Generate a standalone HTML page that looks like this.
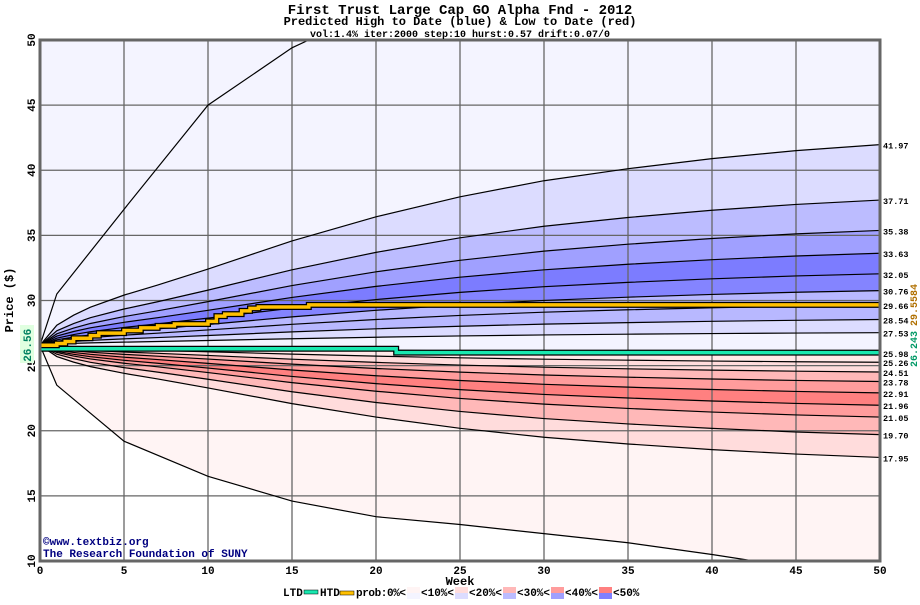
<!DOCTYPE html>
<html><head><meta charset="utf-8"><style>
body{margin:0;background:#fff}
svg text{font-family:"Liberation Mono",monospace;font-weight:bold}
</style></head><body>
<svg id="c" width="920" height="600" xmlns="http://www.w3.org/2000/svg"></svg>
<script>
const weeks=[0,1,2,3,5,7,10,15,20,25,30,35,40,45,50];
const shape=[0,0.1,0.15,0.19,0.25,0.3,0.38,0.52,0.64,0.74,0.82,0.88,0.93,0.97,1];
const startPrice=26.56;
const upperEnds=[41.97,37.71,35.38,33.63,32.05,30.76,29.66,28.54,27.53,25.98];
const lowerEnds=[25.26,24.51,23.78,22.91,21.96,21.05,19.70,17.95];
const topWeeks=[0,1,5,10,15,16];
const topVals=[26.56,30.5,37,45,49.4,50];
const botWeeks=[0,1,5,10,15,20,25,30,35,40,42.5];
const botVals=[26.56,23.5,19.2,16.5,14.6,13.4,12.8,12.1,11.4,10.5,10];
const htdWeeks=[0,1,1.5,2,3,3.5,5,6,7,8,10,10.5,11,12,12.5,13,16,50];
const htdVals=[26.56,26.7,26.85,27.1,27.3,27.5,27.7,27.9,28.05,28.2,28.4,28.8,28.95,29.2,29.4,29.5,29.66,29.66];
const ltdWeeks=[0,21,21.2,50];
const ltdVals=[26.3,26.3,26.0,26.0];
const xTicks=[0,5,10,15,20,25,30,35,40,45,50];
const yTicks=[10,15,20,25,30,35,40,45,50];
const upperFill=['#f4f4ff','#dcdcff','#bcbcff','#a0a0ff','#7c7cff','#8484ff','#b8b8ff','#b8b8ff','#dcdcff','#f4f4ff'];
const lowerFill=['#ffe8e8','#ffdcdc','#ffb8b8','#ff9c9c','#ff8080','#ff9c9c','#ffb8b8','#ffdcdc','#fff4f4'];
const X=w=>40+w*16.8, Y=p=>40+(50-p)*13.025;
const svg=document.getElementById('c');const NS='http://www.w3.org/2000/svg';
function el(t,a,p){const e=document.createElementNS(NS,t);for(const k in a)e.setAttribute(k,a[k]);(p||svg).appendChild(e);return e;}
function curve(e){return weeks.map((w,i)=>[X(w),Y(startPrice+(e-startPrice)*shape[i])]);}
function pts(ws,vs){return ws.map((w,i)=>[X(w),Y(Math.max(10,Math.min(50,vs[i])))]);}
const str=a=>a.map(p=>p.join(',')).join(' ');
const clip=el('clipPath',{id:'pc'});el('rect',{x:40,y:40,width:840,height:521},clip);
const g=el('g',{'clip-path':'url(#pc)'});

el('rect',{x:40,y:40,width:840,height:305,fill:'#f4f4ff'},g);
el('rect',{x:40,y:345,width:840,height:216,fill:'#fff'},g);
let topP=pts(topWeeks,topVals);topP.push([X(50),Y(50)]);
let prev=topP;
upperEnds.forEach((e,i)=>{const c=curve(e);
 const p=el('polygon',{points:str(prev.concat([[X(50),Y(50)]]).concat(c.slice().reverse())),fill:upperFill[i]},g);
 
 prev=c;});
let lp=curve(upperEnds[upperEnds.length-1]);
const bot=pts(botWeeks,botVals);bot.push([X(50),Y(10)]);
const lowCurves=lowerEnds.map(curve);
lowCurves.push(bot);
lowCurves.forEach((c,i)=>{
 const p=el('polygon',{points:str(lp.concat(c.slice().reverse())),fill:lowerFill[i]},g);
 
 lp=c;});
xTicks.forEach(w=>{const l=el('line',{x1:X(w),x2:X(w),y1:40,y2:561,stroke:'#666','stroke-width':1.3},g);});
yTicks.forEach(p=>{const l=el('line',{x1:40,x2:880,y1:Y(p),y2:Y(p),stroke:'#666','stroke-width':1.3},g);});
[topP.slice(0,-1),bot.slice(0,-1)].concat(upperEnds.map(curve),lowerEnds.map(curve)).forEach(c=>{
 const l=el('polyline',{points:str(c),fill:'none',stroke:'#000','stroke-width':1.2},g);});
function stepLine(ws,vs,col,nm){const a=[];ws.forEach((w,i)=>{if(i>0)a.push([X(w),Y(vs[i-1])]);a.push([X(w),Y(vs[i])]);});
 el('polyline',{points:str(a),fill:'none',stroke:'#000','stroke-width':6},g);
 const l=el('polyline',{points:str(a),fill:'none',stroke:col,'stroke-width':3.5},g);}
stepLine(ltdWeeks,ltdVals,'#19e8b0','ltd-line');
stepLine(htdWeeks,htdVals,'#ffc000','htd-line');
const fr=el('rect',{x:40,y:40,width:840,height:521,fill:'none',stroke:'#666','stroke-width':3});

function txt(s,x,y,a,p){const t=el('text',Object.assign({x:x,y:y},a||{}),p);t.textContent=s;return t;}
xTicks.forEach(w=>{const t=txt(w,X(w),574,{'font-size':11,'text-anchor':'middle',fill:'#000','font-weight':'normal'});});
yTicks.forEach(p=>{const t=txt(p,0,0,{'font-size':11,'text-anchor':'middle','font-weight':'normal',transform:`translate(35,${Y(p)}) rotate(-90)`});});
upperEnds.concat(lowerEnds).forEach(e=>{const t=txt(e.toFixed(2),883,Y(e)+4,{'font-size':8.5});});
let t;
t=txt('First Trust Large Cap GO Alpha Fnd  - 2012',460,14,{'font-size':14,'text-anchor':'middle','font-weight':'normal'});
t=txt('Predicted High to Date (blue) &  Low to Date (red)',460,25,{'font-size':12,'text-anchor':'middle'});
t=txt('vol:1.4% iter:2000 step:10 hurst:0.57 drift:0.07/0',460,37,{'font-size':10,'text-anchor':'middle','font-weight':'normal'});
t=txt('Week',460,585,{'font-size':12,'text-anchor':'middle'});
t=txt('Price ($)',0,0,{'font-size':12,'text-anchor':'middle',transform:'translate(13,300) rotate(-90)'});
el('rect',{x:20,y:325,width:14,height:38,fill:'#e0ffe0'});
t=txt('26.56',0,0,{'font-size':11,'text-anchor':'middle',fill:'#008060',transform:`translate(31,${Y(startPrice)}) rotate(-90)`});
t=txt('29.5584',0,0,{'font-size':10,'text-anchor':'middle',fill:'#b07000',transform:'translate(917,305) rotate(-90)'});
t=txt('26.243',0,0,{'font-size':10,'text-anchor':'middle',fill:'#009966',transform:'translate(917,349) rotate(-90)'});
t=txt('©www.textbiz.org',43,545,{'font-size':11,fill:'#000080'});
t=txt('The Research Foundation of SUNY',43,557,{'font-size':11,fill:'#000080'});
const lg=el('g',{});
txt('LTD',283,596,{'font-size':11,'font-weight':'normal'},lg);
el('rect',{x:304,y:590,width:14,height:4,fill:'#19e8b0',stroke:'#000','stroke-width':0.5},lg);
txt('HTD',320,596,{'font-size':11,'font-weight':'normal'},lg);
el('rect',{x:340,y:591,width:14,height:4,fill:'#ffc000',stroke:'#000','stroke-width':0.5},lg);
txt('prob:0%<',356,596,{'font-size':11,'font-weight':'normal',textLength:50},lg);
const lr=['#fff4f4','#ffdcdc','#ffb8b8','#ff9c9c','#ff8080'],lb=['#f4f4ff','#dcdcff','#bcbcff','#a0a0ff','#8080ff'],ll=['<10%<','<20%<','<30%<','<40%<','<50%'];
for(let i=0;i<5;i++){const x=407+i*48;el('rect',{x:x,y:587,width:13,height:6,fill:lr[i]},lg);el('rect',{x:x,y:593,width:13,height:6,fill:lb[i]},lg);txt(ll[i],x+14,596,{'font-size':11,'font-weight':'normal'},lg);}
</script>
</body></html>
